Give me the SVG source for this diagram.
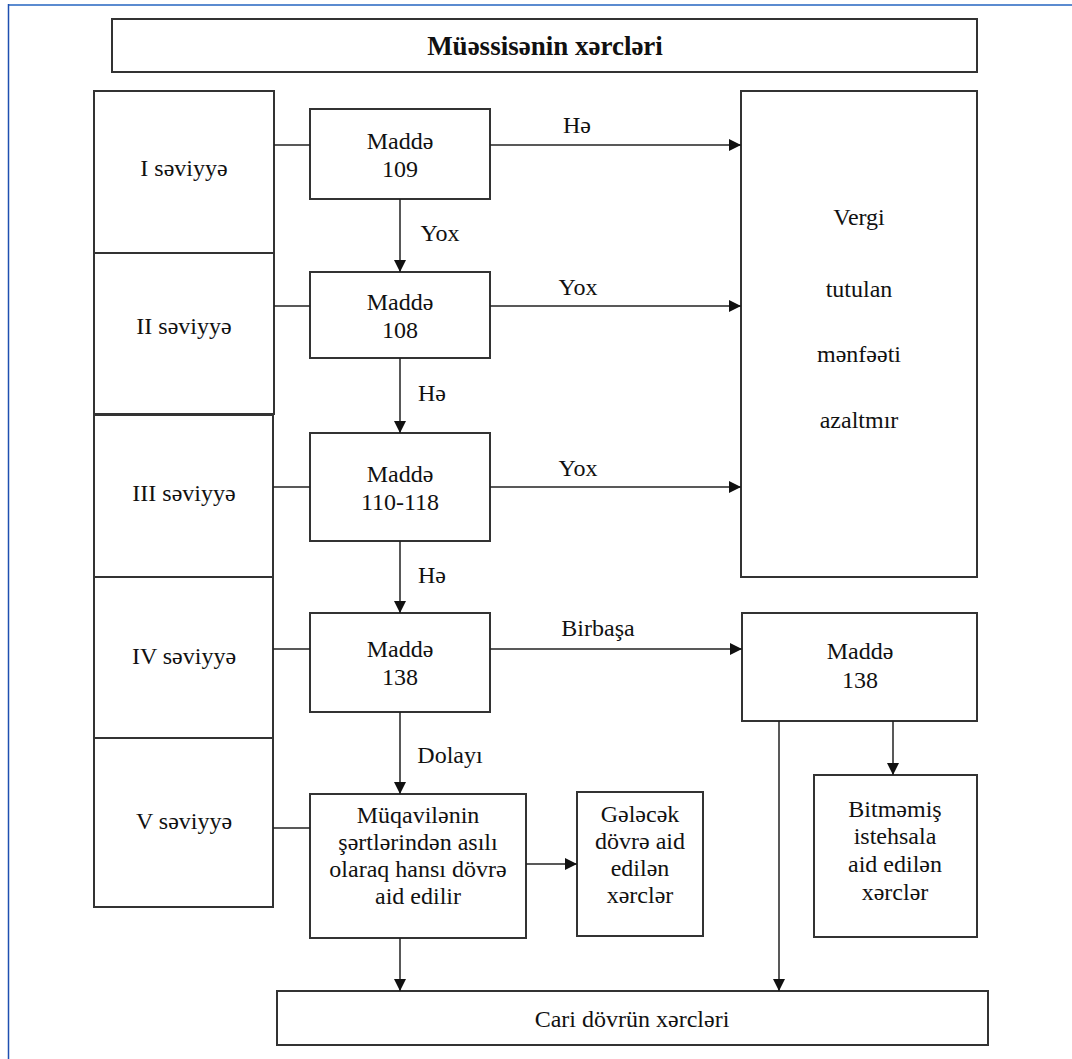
<svg xmlns="http://www.w3.org/2000/svg" width="1072" height="1059" viewBox="0 0 1072 1059">
<defs>
<style>
.box{fill:#fff;stroke:#333;stroke-width:2}
.t{font-family:'Liberation Serif','DejaVu Serif',serif;font-size:24px;fill:#111;text-anchor:middle}
.b{font-weight:bold;font-size:27px}
.ln{fill:none;stroke:#222;stroke-width:1.5}
.ar{fill:none;stroke:#222;stroke-width:1.5;marker-end:url(#ah)}
</style>
<marker id="ah" viewBox="0 0 12 12" refX="12" refY="6" markerWidth="12" markerHeight="12" markerUnits="userSpaceOnUse" orient="auto">
<path d="M0,0 L12,6 L0,12 z" fill="#111"/>
</marker>
</defs>
<rect width="1072" height="1059" fill="#fff"/>
<line x1="8" y1="5" x2="1072" y2="5" stroke="#5b8bd0" stroke-width="2"/>
<line x1="8.5" y1="4" x2="8.5" y2="1059" stroke="#1f4fb0" stroke-width="1.5"/>

<g id="title"><rect class="box" x="112" y="19" width="865" height="53"/><text class="t b" x="545" y="55">Müəssisənin xərcləri</text></g>

<g id="level1"><rect class="box" x="94" y="91" width="180" height="162"/><text class="t" x="184" y="176">I səviyyə</text></g>
<g id="level2"><rect class="box" x="94" y="253" width="180" height="161"/><text class="t" x="184" y="334">II səviyyə</text></g>
<g id="level3"><rect class="box" x="94" y="415" width="179" height="162"/><text class="t" x="184" y="501">III səviyyə</text></g>
<g id="level4"><rect class="box" x="94" y="577" width="179" height="161"/><text class="t" x="184" y="664">IV səviyyə</text></g>
<g id="level5"><rect class="box" x="94" y="738" width="179" height="169"/><text class="t" x="184" y="829">V səviyyə</text></g>

<g id="m109"><rect class="box" x="310" y="109" width="180" height="90"/><text class="t" x="400" y="149">Maddə</text><text class="t" x="400" y="177">109</text></g>
<g id="m108"><rect class="box" x="310" y="272" width="180" height="86"/><text class="t" x="400" y="310">Maddə</text><text class="t" x="400" y="338">108</text></g>
<g id="m110"><rect class="box" x="310" y="433" width="180" height="108"/><text class="t" x="400" y="482">Maddə</text><text class="t" x="400" y="510">110-118</text></g>
<g id="m138"><rect class="box" x="310" y="613" width="180" height="99"/><text class="t" x="400" y="657">Maddə</text><text class="t" x="400" y="685">138</text></g>
<g id="contract"><rect class="box" x="310" y="794" width="216" height="144"/>
<text class="t" x="418" y="823">Müqavilənin</text><text class="t" x="418" y="850">şərtlərindən asılı</text><text class="t" x="418" y="877">olaraq hansı dövrə</text><text class="t" x="418" y="904">aid edilir</text></g>
<g id="future"><rect class="box" x="577" y="792" width="126" height="144"/>
<text class="t" x="640" y="822">Gələcək</text><text class="t" x="640" y="849">dövrə aid</text><text class="t" x="640" y="876">edilən</text><text class="t" x="640" y="903">xərclər</text></g>
<g id="vergi"><rect class="box" x="741" y="91" width="236" height="486"/>
<text class="t" x="859" y="225">Vergi</text><text class="t" x="859" y="297">tutulan</text><text class="t" x="859" y="362">mənfəəti</text><text class="t" x="859" y="428">azaltmır</text></g>
<g id="m138r"><rect class="box" x="742" y="613" width="235" height="108"/><text class="t" x="860" y="659">Maddə</text><text class="t" x="860" y="688">138</text></g>
<g id="wip"><rect class="box" x="814" y="775" width="163" height="162"/>
<text class="t" x="895" y="817">Bitməmiş</text><text class="t" x="895" y="844">istehsala</text><text class="t" x="895" y="872">aid edilən</text><text class="t" x="895" y="900">xərclər</text></g>
<g id="current"><rect class="box" x="277" y="991" width="711" height="54"/><text class="t" x="632" y="1027">Cari dövrün xərcləri</text></g>

<g id="connectors">
<line class="ln" x1="274" y1="145" x2="310" y2="145"/>
<line class="ln" x1="274" y1="306" x2="310" y2="306"/>
<line class="ln" x1="273" y1="487" x2="310" y2="487"/>
<line class="ln" x1="273" y1="649" x2="310" y2="649"/>
<line class="ln" x1="273" y1="828" x2="310" y2="828"/>
<line class="ar" x1="490" y1="145" x2="741" y2="145"/>
<line class="ar" x1="490" y1="306" x2="741" y2="306"/>
<line class="ar" x1="490" y1="487" x2="741" y2="487"/>
<line class="ar" x1="490" y1="649" x2="742" y2="649"/>
<line class="ar" x1="400" y1="199" x2="400" y2="272"/>
<line class="ar" x1="400" y1="358" x2="400" y2="433"/>
<line class="ar" x1="400" y1="541" x2="400" y2="613"/>
<line class="ar" x1="400" y1="712" x2="400" y2="794"/>
<line class="ar" x1="526" y1="864" x2="577" y2="864"/>
<line class="ar" x1="400" y1="938" x2="400" y2="991"/>
<line class="ar" x1="779" y1="721" x2="779" y2="991"/>
<line class="ar" x1="893" y1="721" x2="893" y2="775"/>
<text class="t" x="577" y="133">Hə</text>
<text class="t" x="578" y="295">Yox</text>
<text class="t" x="578" y="476">Yox</text>
<text class="t" x="598" y="636">Birbaşa</text>
<text class="t" x="440" y="241">Yox</text>
<text class="t" x="432" y="401">Hə</text>
<text class="t" x="432" y="583">Hə</text>
<text class="t" x="450" y="763">Dolayı</text>
</g>
</svg>
